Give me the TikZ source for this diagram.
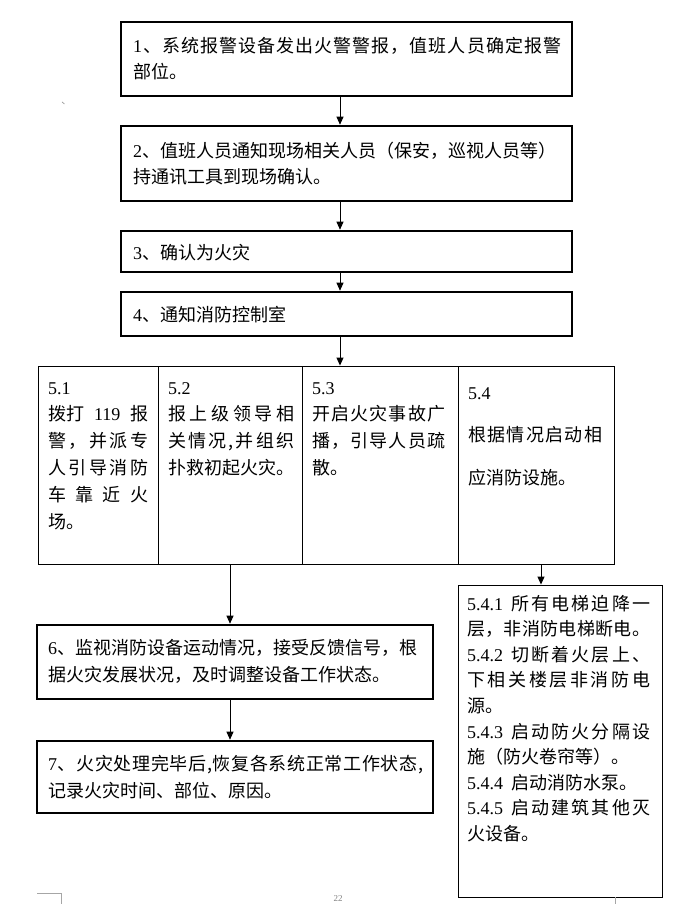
\documentclass[tikz,border=0pt]{standalone}
\usepackage{fontspec}
\setmainfont{Liberation Serif}
\newfontfamily\cjk{Noto Sans CJK SC}
\newfontfamily\latfont{Liberation Serif}
\usetikzlibrary{arrows.meta}
\newcommand\lat[1]{{\latfont #1}}
\def\spreadaux#1{\ifx#1\relax\else\hfill#1\expandafter\spreadaux\fi}
\def\spreadfirst#1{#1\spreadaux}
\newcommand\spreadto[2]{\hbox to #1{\spreadfirst#2\relax}}
\tikzset{
  thickbox/.style={draw, line width=2.6pt, inner sep=0pt, rectangle},
  thinbox/.style={draw, line width=0.9pt, inner sep=0pt, rectangle},
  arr/.style={-{Triangle[length=8pt,width=7pt]}, line width=0.9pt},
  txt/.style={font=\cjk\fontsize{18}{26}\selectfont, align=left, inner sep=0pt, anchor=base west},
}
\begin{document}
\begin{tikzpicture}[x=1pt,y=-1pt]
\useasboundingbox (0,0) rectangle (687,904);
% boxes
\node[thickbox, minimum width=451pt, minimum height=74pt] (b1) at (346.5,59) {};
\node[thickbox, minimum width=451pt, minimum height=75pt] (b2) at (346.5,163.5) {};
\node[thickbox, minimum width=451pt, minimum height=41pt] (b3) at (346.5,251.5) {};
\node[thickbox, minimum width=451pt, minimum height=44pt] (b4) at (346.5,314) {};
\node[thinbox, minimum width=120pt, minimum height=198pt] (c1) at (98,465) {};
\node[thinbox, minimum width=144pt, minimum height=198pt] (c2) at (230,465) {};
\node[thinbox, minimum width=156pt, minimum height=198pt] (c3) at (380,465) {};
\node[thinbox, minimum width=156pt, minimum height=198pt] (c4) at (536,465) {};
\node[thinbox, minimum width=204pt, minimum height=312pt] (b54) at (560,741) {};
\node[thickbox, minimum width=396pt, minimum height=74pt] (b6) at (235,662) {};
\node[thickbox, minimum width=396pt, minimum height=72pt] (b7) at (235,777) {};
% texts (base anchor = baseline of last line)
\node[txt] (t1) at (133,79) {\hbox to 428pt{\lat{1}\spreadaux 、系统报警设备发出火警警报，值班人员确定报警\relax}\\部位。};
\node[txt] (t2) at (133,183) {\lat{2}、值班人员通知现场相关人员（保安，巡视人员等）\\持通讯工具到现场确认。};
\node[txt] (t3) at (133,259) {\lat{3}、确认为火灾};
\node[txt] (t4) at (133,321) {\lat{4}、通知消防控制室};
\node[txt, font=\cjk\fontsize{18}{26.8}\selectfont] (t51) at (48,528) {\lat{5.1}\\\hbox to 100pt{拨打\hfill\lat{119}\hfill 报}\\\spreadto{100pt}{警，并派专}\\\spreadto{100pt}{人引导消防}\\\spreadto{100pt}{车靠近火}\\场。};
\node[txt, font=\cjk\fontsize{18}{26.8}\selectfont] (t52) at (168,474.4) {\lat{5.2}\\\spreadto{126pt}{报上级领导相}\\\spreadto{126pt}{关情况,并组织}\\扑救初起火灾。};
\node[txt, font=\cjk\fontsize{18}{26.8}\selectfont] (t53) at (312,474.4) {\lat{5.3}\\\spreadto{133pt}{开启火灾事故广}\\\spreadto{133pt}{播，引导人员疏}\\散。};
\node[txt, font=\cjk\fontsize{18}{42.5}\selectfont] (t54) at (468,484) {\lat{5.4}\\\spreadto{134pt}{根据情况启动相}\\应消防设施。};
\node[txt, font=\cjk\fontsize{18}{25.6}\selectfont] (t541) at (467,840.4) {%
\hbox to 183pt{\lat{5.4.1}\hspace{6pt}\spreadaux 所有电梯迫降一\relax}\\
\spreadto{183pt}{层，非消防电梯断电。}\\
\hbox to 183pt{\lat{5.4.2}\hspace{6pt}\spreadaux 切断着火层上、\relax}\\
\spreadto{183pt}{下相关楼层非消防电}\\
源。\\
\hbox to 183pt{\lat{5.4.3}\hspace{6pt}\spreadaux 启动防火分隔设\relax}\\
施（防火卷帘等）。\\
\lat{5.4.4}\hspace{8pt}启动消防水泵。\\
\hbox to 183pt{\lat{5.4.5}\hspace{6pt}\spreadaux 启动建筑其他灭\relax}\\
火设备。};
\node[txt, font=\cjk\fontsize{18}{27.5}\selectfont] (t6) at (48,681.5) {\lat{6}、监视消防设备运动情况，接受反馈信号，根\\据火灾发展状况，及时调整设备工作状态。};
\node[txt, font=\cjk\fontsize{18}{27.5}\selectfont] (t7) at (48,797.5) {\hbox to 375pt{\lat{7}\spreadaux 、火灾处理完毕后,恢复各系统正常工作状态,\relax}\\记录火灾时间、部位、原因。};
% connectors
\coordinate (ax) at (340,0);
\coordinate (ax4) at (541,0);
\coordinate (ax6) at (230,0);
\draw[arr] (b1.south -| ax) -- (b2.north -| ax);
\draw[arr] (b2.south -| ax) -- (b3.north -| ax);
\draw[arr] (b3.south -| ax) -- (b4.north -| ax);
\draw[arr] (b4.south -| ax) -- (c3.north -| ax);
\draw[arr] (c2.south -| ax6) -- (b6.north -| ax6);
\draw[arr] (c4.south -| ax4) -- (b54.north -| ax4);
\draw[arr] (b6.south -| ax6) -- (b7.north -| ax6);
% page marks
\draw[gray!70, line width=0.6pt] (37,893) -- (61,893) -- (61,904);
\draw[gray!70, line width=0.6pt] (615,897) -- (615,904);
\draw[gray!80, line width=0.7pt] (62,102) -- (64.5,104);
\node[gray, font=\latfont\fontsize{9}{9}\selectfont, inner sep=0pt, anchor=north] (pg) at (338,895) {22};
\end{tikzpicture}
\end{document}
